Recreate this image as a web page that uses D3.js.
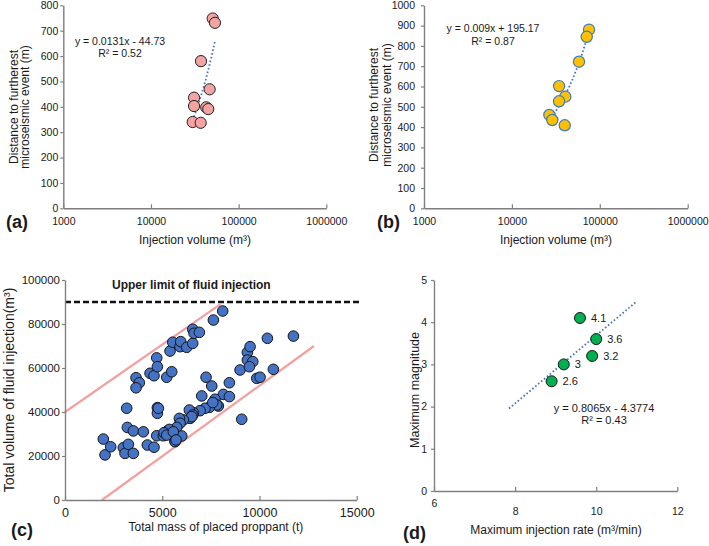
<!DOCTYPE html>
<html><head><meta charset="utf-8">
<script src="https://cdn.jsdelivr.net/npm/d3@7"></script>
<style>
body{margin:0;background:#fff}
svg{display:block}
text{font-family:"Liberation Sans",Arial,sans-serif;fill:#1a1a1a}
</style>
</head><body>
<svg id="chart" width="709" height="546"></svg>
<script>
// ---------- DATA ----------
// (a)
const aVolume   = [50600, 53700, 37200, 46700, 31000, 31000, 42700, 45000, 29900, 36900];
const aDistance = [748, 731, 580, 469, 436, 403, 398, 391, 340, 337];
const aTrendCoef  = [0.0131, -44.73];
const aTrendRange = [29900, 53700];
const aEquation = ["y = 0.0131x - 44.73", "R² = 0.52"];
// (b)
const bVolume   = [75400, 71000, 58000, 34400, 40500, 34400, 26700, 28800, 39900];
const bDistance = [880, 845, 722, 602, 550, 527, 460, 435, 409];
const bTrendCoef  = [0.009, 195.17];
const bTrendRange = [26700, 75400];
const bEquation = ["y = 0.009x + 195.17", "R² = 0.87"];
const logTicks = [1000, 10000, 100000, 1000000];
const aYTicks = [0, 100, 200, 300, 400, 500, 600, 700, 800];
const bYTicks = [0, 100, 200, 300, 400, 500, 600, 700, 800, 900, 1000];
// (c)
const cProppant = [1970, 2058, 2350, 3000, 3086, 3258, 3515, 3207, 3515, 4028, 4235, 4578, 3173, 4750, 4750,
  4717, 5058, 5262, 5658, 3652, 3822, 3652, 4373, 4578, 4717, 4750, 5230, 5488, 5401, 5540, 5916, 5951, 6260,
  6568, 6568, 6636, 6910, 7630, 8110, 7253, 7546, 8452, 9002, 9378, 9378, 9516, 9655, 9482, 10407, 11745,
  10715, 9860, 10031, 7032, 8143, 8452, 7716, 9087, 7886, 7804, 7423, 7202, 6944, 6600, 6394, 6568, 6430,
  6517, 6085, 5880, 5916, 5745, 5365, 5093, 5230, 6003, 5658, 5570, 5710, 4800, 7600];
const cVolume = [27700, 20500, 24200, 23800, 21200, 25300, 21200, 33000, 31400, 31000, 25000, 24000, 41700, 42000, 39400,
  29200, 29200, 31400, 26800, 55600, 53300, 51000, 57600, 56500, 64600, 60600, 55800, 58300, 67700, 71700, 69700, 72000, 69400,
  71200, 77600, 75800, 76200, 81800, 85900, 55800, 51800, 53300, 59100, 67100, 63600, 69700, 62900, 60600, 73500, 74500,
  59400, 55300, 55800, 47300, 48000, 47000, 45800, 36700, 42700, 43200, 42100, 41700, 40600, 39700, 40900, 38600, 37100,
  37900, 36400, 37100, 34900, 33000, 32100, 30600, 29500, 29100, 26500, 31000, 27300, 41700, 44300];
const cUpperLimit = 90000;
const cBoundUpper = [[0, 40000], [8000, 89000]];
const cBoundLower = [[1900, 0], [12800, 70000]];
const cXTicks = [0, 5000, 10000, 15000];
const cYTicks = [0, 20000, 40000, 60000, 80000, 100000];
// (d)
const dRate   = [9.6, 10.0, 9.9, 9.2, 8.9];
const dMag    = [4.1, 3.6, 3.2, 3.0, 2.6];
const dLabels = ["4.1", "3.6", "3.2", "3", "2.6"];
const dTrendCoef  = [0.8065, -4.3774];
const dTrendRange = [7.85, 11.0];
const dEquation = ["y = 0.8065x - 4.3774", "R² = 0.43"];
const dXTicks = [6, 8, 10, 12];
const dYTicks = [0, 1, 2, 3, 4, 5];

// ---------- DRAW ----------
const svg = d3.select("#chart");
const AXIS = "#7f7f7f";
const TREND = "#4472C4";

function styleAxis(g, fs) {
  g.select(".domain").attr("stroke", AXIS).attr("stroke-width", 1.4);
  g.selectAll(".tick line").attr("stroke", AXIS).attr("stroke-width", 1.2);
  g.selectAll(".tick text").attr("font-size", fs).attr("fill", "#1a1a1a")
    .attr("font-family", '"Liberation Sans",Arial,sans-serif');
}

function drawAxes(x, y, xTicks, yTicks, opt) {
  const [xr0, xr1] = x.range(); const [yr0, yr1] = y.range();
  const gx = svg.append("g").attr("transform", `translate(0,${yr0})`)
    .call(d3.axisBottom(x).tickValues(xTicks).tickFormat(d3.format("d"))
      .tickSizeInner(-4).tickSizeOuter(0).tickPadding(opt.xPad));
  styleAxis(gx, opt.xfs);
  const gy = svg.append("g").attr("transform", `translate(${xr0},0)`)
    .call(d3.axisLeft(y).tickValues(yTicks).tickFormat(d3.format("d"))
      .tickSizeInner(opt.yTick).tickSizeOuter(0).tickPadding(opt.yPad));
  styleAxis(gy, opt.yfs);
  return [gx, gy];
}

function trendPath(x, y, coef, range, logx) {
  const n = 40;
  const pts = d3.range(n + 1).map(i => {
    const t = i / n;
    const xv = logx ? Math.exp(Math.log(range[0]) + t * (Math.log(range[1]) - Math.log(range[0])))
                    : range[0] + t * (range[1] - range[0]);
    return [x(xv), y(coef[0] * xv + coef[1])];
  });
  svg.append("path").attr("d", d3.line()(pts)).attr("fill", "none")
    .attr("stroke", TREND).attr("stroke-width", 1.8).attr("stroke-dasharray", "1.6,2.2");
}

function equation(lines, cx, cy, fs, gap) {
  lines.forEach((s, i) => svg.append("text").attr("x", cx).attr("y", cy + i * gap)
    .attr("text-anchor", "middle").attr("font-size", fs).text(s));
}

function points(x, y, xs, ys, r, fill, stroke, sw) {
  svg.append("g").selectAll("circle").data(xs.map((v, i) => [v, ys[i]])).join("circle")
    .attr("cx", d => x(d[0])).attr("cy", d => y(d[1])).attr("r", r)
    .attr("fill", fill).attr("stroke", stroke).attr("stroke-width", sw);
}

function xTitle(txt, cx, cy, fs) {
  svg.append("text").attr("x", cx).attr("y", cy).attr("text-anchor", "middle").attr("font-size", fs).text(txt);
}

function yTitle(lines, cx, cy, fs, gap) {
  const g = svg.append("g").attr("transform", `translate(${cx},${cy}) rotate(-90)`);
  lines.forEach((s, i) => g.append("text").attr("x", 0).attr("y", (i - (lines.length - 1) / 2) * gap)
    .attr("dy", "0.35em").attr("text-anchor", "middle").attr("font-size", fs).text(s));
}

function panelLabel(s, x, y) {
  svg.append("text").attr("x", x).attr("y", y).attr("font-size", 18).attr("font-weight", "bold").text(s);
}

// ----- (a)
{
  const x = d3.scaleLog().domain([1000, 1000000]).range([63.3, 326.3]);
  const y = d3.scaleLinear().domain([0, 800]).range([208.3, 5.3]);
  drawAxes(x, y, logTicks, aYTicks, {xPad: 9, xfs: 10.5, yTick: 3, yPad: 2, yfs: 10.5});
  trendPath(x, y, aTrendCoef, aTrendRange, true);
  points(x, y, aVolume, aDistance, 5.6, "#F4A3A3", "#222", 1);
  equation(aEquation, 120, 44.5, 10.5, 12);
  xTitle("Injection volume (m³)", 195, 243.5, 12);
  yTitle(["Distance to furtherest", "microseismic event (m)"], 19, 107, 12, 11.3);
  panelLabel("(a)", 6, 227.5);
}
// ----- (b)
{
  const x = d3.scaleLog().domain([1000, 1000000]).range([424, 687.7]);
  const y = d3.scaleLinear().domain([0, 1000]).range([208.3, 5.3]);
  drawAxes(x, y, logTicks, bYTicks, {xPad: 9, xfs: 10.5, yTick: 3, yPad: 6, yfs: 10.5});
  trendPath(x, y, bTrendCoef, bTrendRange, true);
  points(x, y, bVolume, bDistance, 5.6, "#FFC000", "#3C7BC0", 1.2);
  equation(bEquation, 493, 32, 10.5, 13);
  xTitle("Injection volume (m³)", 556, 243.5, 12);
  yTitle(["Distance to furtherest", "microseismic event (m)"], 380, 105, 12, 13);
  panelLabel("(b)", 377, 227.5);
}
// ----- (c)
{
  const x = d3.scaleLinear().domain([0, 15000]).range([65, 356.7]);
  const y = d3.scaleLinear().domain([0, 100000]).range([500, 280]);
  svg.append("line").attr("x1", x(0)).attr("x2", x(15150)).attr("y1", y(cUpperLimit)).attr("y2", y(cUpperLimit))
    .attr("stroke", "#111").attr("stroke-width", 2.6).attr("stroke-dasharray", "6,3");
  svg.append("text").attr("x", 112).attr("y", 289).attr("font-size", 12).attr("font-weight", "bold")
    .text("Upper limit of fluid injection");
  [cBoundUpper, cBoundLower].forEach(seg => svg.append("line")
    .attr("x1", x(seg[0][0])).attr("y1", y(seg[0][1])).attr("x2", x(seg[1][0])).attr("y2", y(seg[1][1]))
    .attr("stroke", "#F4A0A0").attr("stroke-width", 2.2));
  drawAxes(x, y, cXTicks, cYTicks, {xPad: 8, xfs: 12.5, yTick: 3, yPad: 2, yfs: 11.5});
  points(x, y, cProppant, cVolume, 5.3, "#4472C4", "#151515", 1);
  xTitle("Total mass of placed proppant  (t)", 216, 531, 12);
  yTitle(["Total volume of fluid injection(m³)"], 9, 390, 14, 0);
  panelLabel("(c)", 11, 536);
}
// ----- (d)
{
  const x = d3.scaleLinear().domain([6, 12]).range([434, 677.3]);
  const y = d3.scaleLinear().domain([0, 5]).range([491, 280]);
  const [gx] = drawAxes(x, y, dXTicks, dYTicks, {xPad: 17, xfs: 10.5, yTick: 3, yPad: 4, yfs: 10.5});
  gx.selectAll(".tick text").filter(d => d === dXTicks[0]).attr("y", 9);
  trendPath(x, y, dTrendCoef, dTrendRange, false);
  points(x, y, dRate, dMag, 5.5, "#00B050", "#151515", 1);
  svg.append("g").selectAll("text").data(dRate.map((v, i) => [v, dMag[i], dLabels[i]])).join("text")
    .attr("x", d => x(d[0]) + 11).attr("y", d => y(d[1])).attr("dy", "0.35em").attr("font-size", 11)
    .text(d => d[2]);
  equation(dEquation, 604, 411.5, 11, 12);
  xTitle("Maximum injection rate (m³/min)", 556, 534, 12);
  yTitle(["Maximum magnitude"], 415, 390, 12.5, 0);
  panelLabel("(d)", 403, 539);
}
</script>
</body></html>
